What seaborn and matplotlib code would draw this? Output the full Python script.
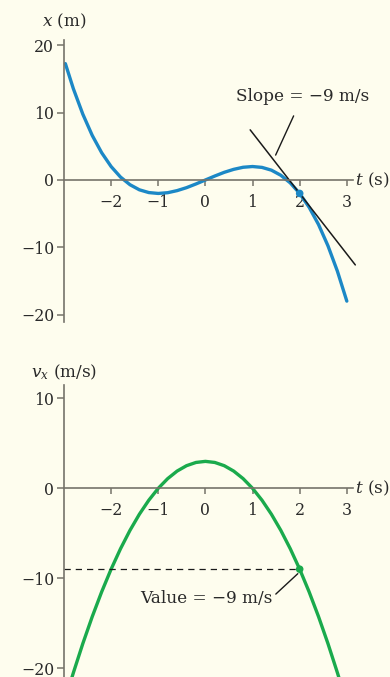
import numpy as np
import pandas as pd
import matplotlib
matplotlib.use("Agg")
import matplotlib.pyplot as plt
import seaborn as sns

# Position x(t) of the particle
t_pos = [-2.97, -2.8, -2.6, -2.4, -2.2, -2.0, -1.8, -1.6, -1.4, -1.2, -1.0,
         -0.8, -0.6, -0.4, -0.2, 0.0, 0.2, 0.4, 0.6, 0.8, 1.0, 1.2, 1.4,
         1.6, 1.8, 2.0, 2.2, 2.4, 2.6, 2.8, 3.0]
x_pos = [17.29, 13.55, 9.78, 6.62, 4.05, 2.0, 0.43, -0.70, -1.46, -1.87, -2.0,
         -1.89, -1.58, -1.14, -0.59, 0.0, 0.59, 1.14, 1.58, 1.89, 2.0, 1.87,
         1.46, 0.70, -0.43, -2.0, -4.05, -6.62, -9.78, -13.55, -18.0]

# Velocity v_x(t)
t_vel = [-2.85, -2.8, -2.6, -2.4, -2.2, -2.0, -1.8, -1.6, -1.4, -1.2, -1.0,
         -0.8, -0.6, -0.4, -0.2, 0.0, 0.2, 0.4, 0.6, 0.8, 1.0, 1.2, 1.4,
         1.6, 1.8, 2.0, 2.2, 2.4, 2.6, 2.8, 2.85]
v_vel = [-21.37, -20.52, -17.28, -14.28, -11.52, -9.0, -6.72, -4.68, -2.88,
         -1.32, 0.0, 1.08, 1.92, 2.52, 2.88, 3.0, 2.88, 2.52, 1.92, 1.08, 0.0,
         -1.32, -2.88, -4.68, -6.72, -9.0, -11.52, -14.28, -17.28, -20.52,
         -21.37]

# Tangent at t = 2 s (slope -9 m/s) and the marked instant
tangent_t = [0.95, 3.18]
tangent_x = [7.45, -12.62]
mark_t = [2.0]
mark_x = [-2.0]
mark_v = [-9.0]

x_ticks = [-2, -1, 0, 1, 2, 3]
pos_yticks = [-20, -10, 0, 10, 20]
vel_yticks = [-20, -10, 0, 10]

pos_df = pd.DataFrame({"t": t_pos, "x": x_pos})
vel_df = pd.DataFrame({"t": t_vel, "v": v_vel})

sns.set_theme(style="white")
plt.rcParams["font.family"] = ["DejaVu Serif"]
plt.rcParams["mathtext.fontset"] = "dejavuserif"

BG = "#fefdee"
BLUE = "#1c88c6"
GREEN = "#1aaa4c"
AXC = "#76736a"
TXT = "#2a2a2a"
FS = 11.3      # tick labels
FS_LAB = 12.2  # axis titles and callouts

fig = plt.figure(figsize=(3.9, 6.77), dpi=100, facecolor=BG)
ax1 = fig.add_axes([0.164, 0.5244, 0.741, 0.4165])
ax2 = fig.add_axes([0.164, 0.0, 0.741, 0.4313])

XLIM = (-3.0, 3.13)


def style_axes(ax, yticks, ylim):
    ax.set_facecolor(BG)
    ax.set_xlim(*XLIM)
    ax.set_ylim(*ylim)
    for side in ("top", "right"):
        ax.spines[side].set_visible(False)
    ax.spines["bottom"].set_position(("data", 0))
    ax.spines["left"].set_position(("data", XLIM[0]))
    for side in ("bottom", "left"):
        ax.spines[side].set_color(AXC)
        ax.spines[side].set_linewidth(1.2)
    ax.set_xticks(x_ticks)
    ax.set_yticks(yticks)
    ax.set_xticklabels([f"{v}".replace("-", "\u2212") for v in x_ticks])
    ax.set_yticklabels([f"{v}".replace("-", "\u2212") for v in yticks])
    ax.tick_params(axis="x", bottom=True, direction="out", length=4,
                   width=1.1, color=AXC, pad=6, labelsize=FS,
                   labelcolor=TXT)
    ax.tick_params(axis="y", left=True, direction="out", length=5,
                   width=1.1, color=AXC, pad=2, labelsize=FS,
                   labelcolor=TXT)
    ax.set_xlabel("")
    ax.set_ylabel("")


# ---- position vs time ----
sns.lineplot(data=pos_df, x="t", y="x", ax=ax1, color=BLUE, lw=2.4,
             sort=False)
sns.lineplot(x=tangent_t, y=tangent_x, ax=ax1, color="#1a1a1a", lw=1.1,
             sort=False)
for ln in ax1.lines:
    ln.set_clip_on(False)
sns.scatterplot(x=mark_t, y=mark_x, ax=ax1, color=BLUE, s=30,
                edgecolor="none", zorder=5)
style_axes(ax1, pos_yticks, (-21.1, 20.8))
ax1.text(XLIM[0], 23.5, "$x$ (m)", ha="center", va="center",
         fontsize=FS_LAB, color=TXT, clip_on=False)
ax1.text(3.18, 0, "$t$ (s)", ha="left", va="center", fontsize=FS_LAB,
         color=TXT, clip_on=False)
ax1.annotate("Slope = \u22129 m/s", xy=(1.49, 3.7), xytext=(2.06, 12.4),
             ha="center", va="center", fontsize=FS_LAB, color=TXT,
             arrowprops=dict(arrowstyle="-", color="#1a1a1a", lw=1.0,
                             shrinkA=6, shrinkB=0))

# ---- velocity vs time ----
sns.lineplot(data=vel_df, x="t", y="v", ax=ax2, color=GREEN, lw=2.4,
             sort=False)
ax2.plot([XLIM[0], mark_t[0]], [mark_v[0], mark_v[0]], color="#1a1a1a",
         lw=0.9, dashes=(5, 4))
sns.scatterplot(x=mark_t, y=mark_v, ax=ax2, color=GREEN, s=30,
                edgecolor="none", zorder=5)
style_axes(ax2, vel_yticks, (-21.0, 11.5))
ax2.text(XLIM[0], 12.9, "$v_x$ (m/s)", ha="center", va="center",
         fontsize=FS_LAB, color=TXT, clip_on=False)
ax2.text(3.18, 0, "$t$ (s)", ha="left", va="center", fontsize=FS_LAB,
         color=TXT, clip_on=False)
ax2.annotate("Value = \u22129 m/s", xy=(1.96, -9.5), xytext=(0.02, -12.3),
             ha="center", va="center", fontsize=FS_LAB, color=TXT,
             arrowprops=dict(arrowstyle="-", color="#1a1a1a", lw=1.0,
                             shrinkA=0, shrinkB=0,
                             relpos=(1.0, 0.6)))

fig.savefig("out.png", dpi=100, facecolor=BG)
